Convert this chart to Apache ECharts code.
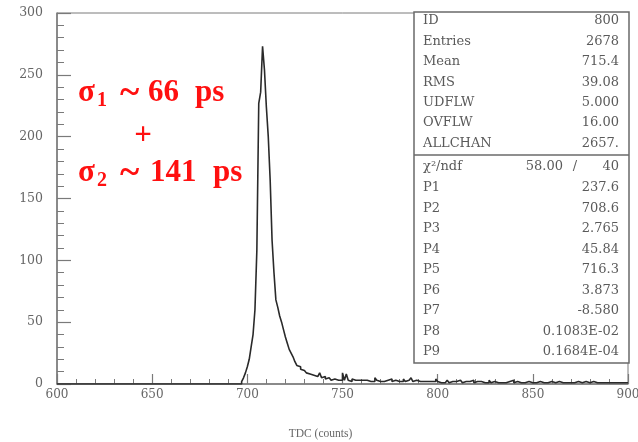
<!DOCTYPE html>
<html>
<head>
<meta charset="utf-8">
<script src="https://cdn.jsdelivr.net/npm/echarts@6/dist/echarts.min.js"></script>
<style>
html,body{margin:0;padding:0;background:#fff;}
#main{width:638px;height:442px;}
</style>
</head>
<body>
<div id="main"></div>
<script>
// Histogram: TDC counts, 1-count bins
const firstBin = 697;
const counts = [
  2, 5, 9, 14, 20, 30, 40, 60, 108, 227,      // 697-706
  236, 273, 254, 224, 200, 165, 116, 90, 68, 62, // 707-716
  55, 50, 44, 38, 33, 28, 25, 22, 18, 15,     // 717-726
  14, 12, 11, 10, 9, 8, 9, 7, 8, 6,           // 727-736
  7, 9, 5, 6, 4, 5, 4, 3, 4, 3,               // 737-746
  3, 4, 3, 9, 3, 8, 3, 2, 4, 3,               // 747-756
  2, 3, 2, 3, 2, 3, 4, 2, 3, 2,               // 757-766
  5, 3, 2, 3, 2, 2, 3, 2, 4, 2,               // 767-776
  3, 2, 2, 3, 2, 4, 2, 3, 2, 5,               // 777-786
  2, 3, 2, 2, 3, 2, 1, 2, 3, 2,               // 787-796
  1, 2, 4, 2, 1, 2, 1, 2, 3, 1,               // 797-806
  2, 1, 2, 1, 3, 2, 1, 2, 1, 2,               // 807-816
  1, 3, 1, 2, 1, 2, 1, 1, 2, 1,               // 817-826
  3, 1, 2, 1, 1, 2, 1, 2, 1, 1,               // 827-836
  2, 1, 3, 1, 2, 1, 1, 2, 1, 1,               // 837-846
  2, 1, 1, 2, 1, 1, 2, 1, 1, 2,               // 847-856
  1, 1, 2, 1, 1, 1, 2, 1, 1, 2,               // 857-866
  1, 1, 1, 2, 1, 1, 2, 1, 1, 1,               // 867-876
  2, 1, 1, 1, 2, 1, 1, 2, 1, 1,               // 877-886
  1, 2, 1, 1, 1, 2, 1, 1, 1, 2,               // 887-896
  1, 1, 1                                      // 897-899
];
const xTicks = [600, 650, 700, 750, 800, 850, 900];
const yTicks = [0, 50, 100, 150, 200, 250, 300];

// Statistics box
const statLabels = ['ID', 'Entries', 'Mean', 'RMS', 'UDFLW', 'OVFLW', 'ALLCHAN'];
const statValues = ['800', '2678', '715.4', '39.08', '5.000', '16.00', '2657.'];
const chi2Label = 'χ²/ndf';
const chi2Value = '58.00';
const ndfValue = '40';
const parLabels = ['P1', 'P2', 'P3', 'P4', 'P5', 'P6', 'P7', 'P8', 'P9'];
const parValues = ['237.6', '708.6', '2.765', '45.84', '716.3', '3.873', '-8.580', '0.1083E-02', '0.1684E-04'];

// build step data
const histData = [[600, 0], [firstBin, 0]];
counts.forEach((c, i) => histData.push([firstBin + i, c]));
histData.push([900, counts[counts.length - 1]]);

const axisColor = '#7a7a7a';
const labelColor = '#666';
const serif = "'Liberation Serif','DejaVu Serif',serif";
const wideSerif = "'DejaVu Serif','Liberation Serif',serif";
const red = '#ff1010';

const chart = echarts.init(document.getElementById('main'));

const graphics = [];
// stats box
const bx = 414, by = 12, bw = 215, bh = 351, divY = 155;
graphics.push({type:'rect', shape:{x:bx, y:by, width:bw, height:bh}, style:{fill:'#fff', stroke:'#6a6a6a', lineWidth:1.5}, z:10});
graphics.push({type:'line', shape:{x1:bx, y1:divY, x2:bx+bw, y2:divY}, style:{stroke:'#6a6a6a', lineWidth:1.5}, z:11});
const txtStyle = {fontFamily: wideSerif, fontSize: 13, fill: '#5a5a5a'};
statLabels.forEach((l, i) => {
  const y = 21 + i * 20.4;
  graphics.push({type:'text', x: 423, y: y, style: Object.assign({text:l, textVerticalAlign:'middle'}, txtStyle), z:12});
  graphics.push({type:'text', x: 619, y: y, style: Object.assign({text:statValues[i], textAlign:'right', textVerticalAlign:'middle'}, txtStyle), z:12});
});
graphics.push({type:'text', x: 423, y: 167, style: Object.assign({text:chi2Label, textVerticalAlign:'middle'}, txtStyle), z:12});
graphics.push({type:'text', x: 563, y: 167, style: Object.assign({text:chi2Value, textAlign:'right', textVerticalAlign:'middle'}, txtStyle), z:12});
graphics.push({type:'text', x: 575, y: 167, style: Object.assign({text:'/', textAlign:'center', textVerticalAlign:'middle'}, txtStyle), z:12});
graphics.push({type:'text', x: 619, y: 167, style: Object.assign({text:ndfValue, textAlign:'right', textVerticalAlign:'middle'}, txtStyle), z:12});
parLabels.forEach((l, i) => {
  const y = 188 + i * 20.5;
  graphics.push({type:'text', x: 423, y: y, style: Object.assign({text:l, textVerticalAlign:'middle'}, txtStyle), z:12});
  graphics.push({type:'text', x: 619, y: y, style: Object.assign({text:parValues[i], textAlign:'right', textVerticalAlign:'middle'}, txtStyle), z:12});
});

// red annotation pieces
const bigStyle = {fontFamily: serif, fontWeight: 'bold', fontSize: 31, fill: red, textVerticalAlign: 'middle'};
const subStyle = {fontFamily: serif, fontWeight: 'bold', fontSize: 20, fill: red, textVerticalAlign: 'middle'};
const tildeStyle = {fontFamily: serif, fontWeight: 'bold', fontSize: 37, fill: red, textVerticalAlign: 'middle'};
function redText(str, x, y, st, align) {
  graphics.push({type:'text', x: x, y: y, style: Object.assign({text: str, textAlign: align || 'left'}, st), z: 12});
}
redText('σ', 78, 93, bigStyle);
redText('1', 97, 101, subStyle);
redText('~', 120, 94, tildeStyle);
redText('66', 148, 93, bigStyle);
redText('ps', 195, 93, bigStyle);
redText('+', 143, 136, bigStyle, 'center');
redText('σ', 78, 173, bigStyle);
redText('2', 97, 181, subStyle);
redText('~', 120, 174, tildeStyle);
redText('141', 150, 173, bigStyle);
redText('ps', 213, 173, bigStyle);

chart.setOption({
  animation: false,
  backgroundColor: '#fff',
  grid: {left: 57, right: 10, top: 13, bottom: 58, outerBoundsMode: 'none', containLabel: false,
         show: true, borderColor: axisColor, borderWidth: 1, backgroundColor: 'transparent'},
  xAxis: {
    type: 'value', min: xTicks[0], max: xTicks[xTicks.length-1], interval: 50,
    name: 'TDC (counts)', nameLocation: 'middle', nameGap: 44,
    nameTextStyle: {fontFamily: serif, fontSize: 11.5, color: labelColor, padding: [0, 44, 0, 0]},
    axisLine: {lineStyle: {color: axisColor, width: 1.5}},
    axisTick: {inside: true, length: 10, lineStyle: {color: axisColor, width: 1.2}},
    minorTick: {show: true, splitNumber: 5, length: 5, lineStyle: {color: axisColor, width: 1}},
    splitLine: {show: false},
    axisLabel: {fontFamily: wideSerif, fontSize: 12, color: labelColor, margin: 5}
  },
  yAxis: {
    type: 'value', min: yTicks[0], max: yTicks[yTicks.length-1], interval: 50,
    axisLine: {show: true, lineStyle: {color: axisColor, width: 1.5}},
    axisTick: {show: true, inside: true, length: 14, lineStyle: {color: axisColor, width: 1.2}},
    minorTick: {show: true, splitNumber: 5, length: 7, lineStyle: {color: axisColor, width: 1}},
    splitLine: {show: false},
    axisLabel: {fontFamily: wideSerif, fontSize: 12.5, color: labelColor, margin: 14}
  },
  series: [{
    type: 'line', step: 'end', data: histData, showSymbol: false,
    lineStyle: {color: '#2a2a2a', width: 1.6}, z: 5
  }],
  graphic: graphics
});
</script>
</body>
</html>
